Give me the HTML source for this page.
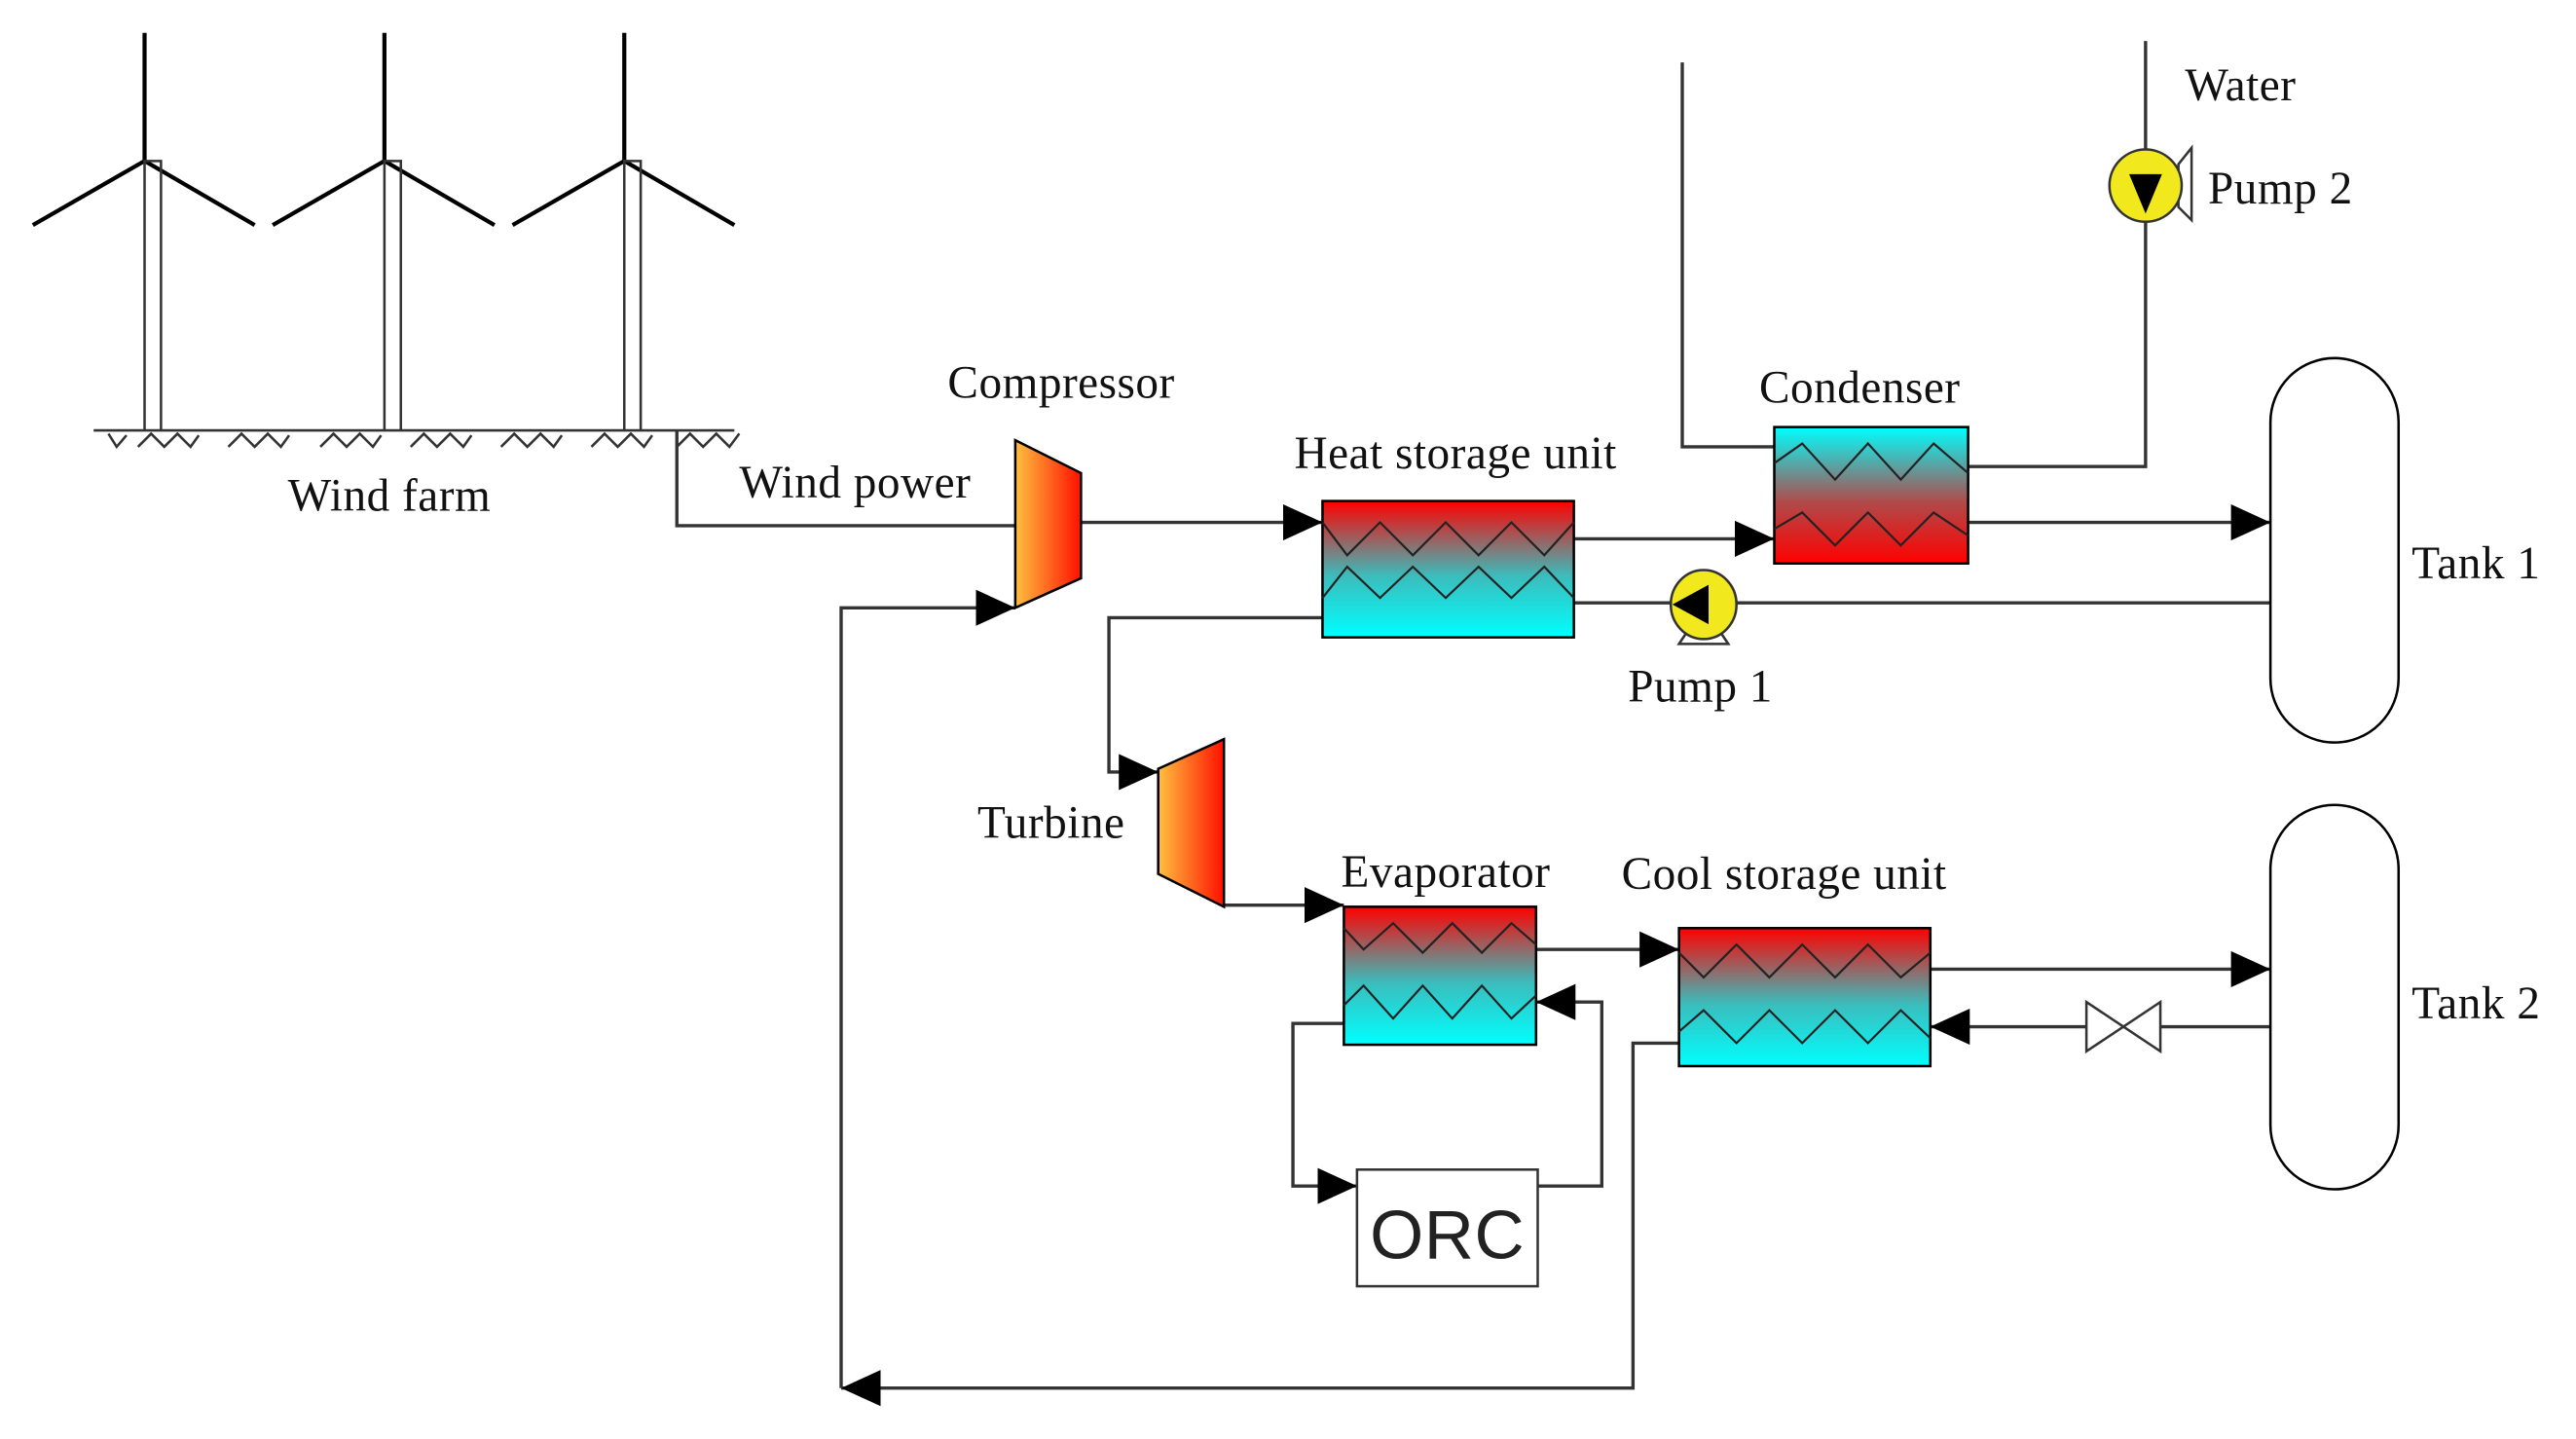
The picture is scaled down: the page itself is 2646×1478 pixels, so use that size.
<!DOCTYPE html>
<html><head><meta charset="utf-8"><style>
html,body{margin:0;padding:0;background:#fff}
svg{display:block}
text{font-family:"Liberation Serif",serif;font-size:28px;fill:#111;letter-spacing:0.3px}
</style></head><body>
<svg width="2646" height="1478" viewBox="0 0 1568 876" preserveAspectRatio="none" xmlns="http://www.w3.org/2000/svg">
<defs>
<linearGradient id="rc" x1="0" y1="0" x2="0" y2="1"><stop offset="0" stop-color="#ff0000"/><stop offset="0.55" stop-color="#3cbcbc"/><stop offset="1" stop-color="#00ffff"/></linearGradient>
<linearGradient id="cr" x1="0" y1="0" x2="0" y2="1"><stop offset="0" stop-color="#00ffff"/><stop offset="0.55" stop-color="#b04a4a"/><stop offset="1" stop-color="#ff0000"/></linearGradient>
<linearGradient id="tb" x1="0" y1="0" x2="1" y2="0"><stop offset="0" stop-color="#ffc040"/><stop offset="1" stop-color="#ff1000"/></linearGradient>
<marker id="ar" markerWidth="24" markerHeight="22" refX="10" refY="5" orient="auto" markerUnits="userSpaceOnUse" viewBox="0 0 10 10" preserveAspectRatio="none"><path d="M0,0L10,5L0,10z" fill="#000"/></marker>
</defs>
<g stroke="#000" fill="none" stroke-width="2.5">
<path d="M88,20V98M88,98L20,137M88,98L155,137"/>
<path d="M234,20V98M234,98L166,137M234,98L301,137"/>
<path d="M380,20V98M380,98L312,137M380,98L447,137"/>
</g>
<g stroke="#333" fill="none" stroke-width="1.5">
<path d="M88,262V98H98V262M234,262V98H244V262M380,262V98H390V262"/>
<path d="M57,262H447"/>
<path d="M66,264l5,8 6,-7 M84,272l8,-8 8,8 8,-8 8,8 5,-7 M139,272l8,-8 8,8 8,-8 8,8 5,-7 M195,272l8,-8 8,8 8,-8 8,8 5,-7 M250,272l8,-8 8,8 8,-8 8,8 5,-7 M305,272l8,-8 8,8 8,-8 8,8 5,-7 M360,272l8,-8 8,8 8,-8 8,8 5,-7 M412,272l8,-8 8,8 8,-8 8,8 6,-8"/>
</g>
<g stroke="#333" fill="none" stroke-width="2">
<path d="M412,262V320H618"/>
<path d="M658,318H805" marker-end="url(#ar)"/>
<path d="M958,328H1080" marker-end="url(#ar)"/>
<path d="M1024,38V272H1080"/>
<path d="M1198,284H1306V25"/>
<path d="M1198,318H1382" marker-end="url(#ar)"/>
<path d="M1382,367H958"/>
<path d="M805,376H675V470H705" marker-end="url(#ar)"/>
<path d="M745,551H818" marker-end="url(#ar)"/>
<path d="M935,578H1022" marker-end="url(#ar)"/>
<path d="M1175,590H1382" marker-end="url(#ar)"/>
<path d="M1382,625H1175" marker-end="url(#ar)"/>
<path d="M1022,635H994V845H512" marker-end="url(#ar)"/>
<path d="M512,845V370H618" marker-end="url(#ar)"/>
<path d="M818,623H787V722H826" marker-end="url(#ar)"/>
<path d="M936,722H975V610H935" marker-end="url(#ar)"/>
</g>
<path d="M618,268L658,288V352L618,370Z" fill="url(#tb)" stroke="#000" stroke-width="1.5"/>
<path d="M705,468L745,450V552L705,532Z" fill="url(#tb)" stroke="#000" stroke-width="1.5"/>
<g stroke="#000" stroke-width="1.5">
<rect x="805" y="305" width="153" height="83" fill="url(#rc)"/>
<rect x="1080" y="260" width="118" height="83" fill="url(#cr)"/>
<rect x="818" y="552" width="117" height="84" fill="url(#rc)"/>
<rect x="1022" y="565" width="153" height="84" fill="url(#rc)"/>
</g>
<g stroke="#222" fill="none" stroke-width="1.3">
<polyline points="805,318 820,338 840,318 860,338 880,318 900,338 920,318 940,338 958,318"/>
<polyline points="805,364 820,345 840,364 860,345 880,364 900,345 920,364 940,345 958,364"/>
<polyline points="1080,282 1097,270 1117,292 1137,270 1157,292 1177,270 1198,288"/>
<polyline points="1080,322 1097,312 1117,332 1137,312 1157,332 1177,312 1198,326"/>
<polyline points="818,565 830,578 848,562 866,580 884,562 902,580 920,562 935,575"/>
<polyline points="818,612 830,600 848,620 866,600 884,620 902,600 920,620 935,606"/>
<polyline points="1022,580 1037,595 1057,575 1077,595 1097,575 1117,595 1137,575 1157,595 1175,580"/>
<polyline points="1022,628 1037,615 1057,635 1077,615 1097,635 1117,615 1137,635 1157,615 1175,632"/>
</g>
<rect x="1382" y="218" width="78" height="234" rx="39" fill="#fff" stroke="#000" stroke-width="1.5"/>
<rect x="1382" y="490" width="78" height="234" rx="39" fill="#fff" stroke="#000" stroke-width="1.5"/>
<path d="M1270,610L1315,640V610L1270,640Z" fill="#fff" stroke="#333" stroke-width="1.5"/>
<path d="M1022,392L1030,380H1044L1052,392Z" fill="#fff" stroke="#333" stroke-width="1.5"/>
<ellipse cx="1037" cy="368" rx="20" ry="21" fill="#f2e81e" stroke="#333" stroke-width="1.5"/>
<path d="M1018,368L1040,356V380Z" fill="#000"/>
<path d="M1326,100L1334,90V134L1326,126Z" fill="#fff" stroke="#333" stroke-width="1.5"/>
<circle cx="1306" cy="113" r="22" fill="#f2e81e" stroke="#333" stroke-width="1.5"/>
<path d="M1296,106H1316L1306,130Z" fill="#000"/>
<rect x="826" y="712" width="110" height="71" fill="#fff" stroke="#333" stroke-width="1.5"/>
<text x="881" y="766" text-anchor="middle" style="font-size:42px;font-family:'Liberation Sans',sans-serif;fill:#222">ORC</text>
<text x="237" y="311" text-anchor="middle">Wind farm</text>
<text x="450" y="303">Wind power</text>
<text x="646" y="242" text-anchor="middle">Compressor</text>
<text x="886" y="285" text-anchor="middle">Heat storage unit</text>
<text x="1132" y="245" text-anchor="middle">Condenser</text>
<text x="1330" y="61">Water</text>
<text x="1344" y="124">Pump 2</text>
<text x="1468" y="352">Tank 1</text>
<text x="1035" y="427" text-anchor="middle">Pump 1</text>
<text x="595" y="510">Turbine</text>
<text x="880" y="540" text-anchor="middle">Evaporator</text>
<text x="1086" y="541" text-anchor="middle">Cool storage unit</text>
<text x="1468" y="620">Tank 2</text>
</svg>
</body></html>
